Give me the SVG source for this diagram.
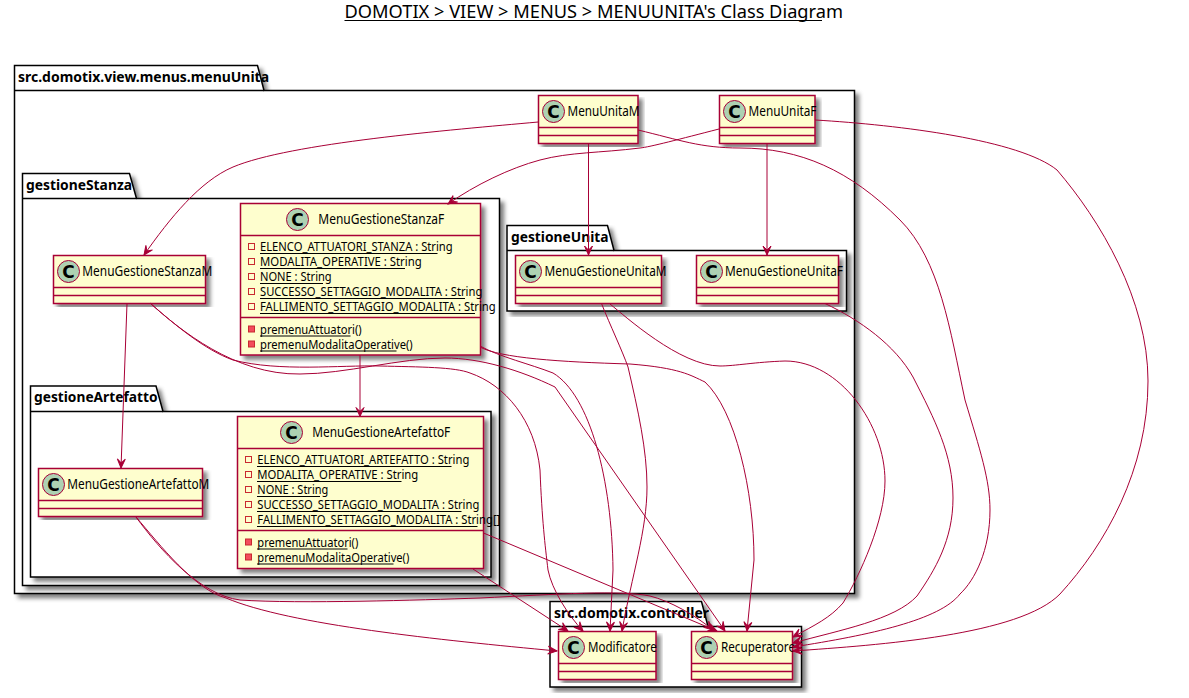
<svg xmlns="http://www.w3.org/2000/svg" width="1189" height="698" viewBox="0 0 1189 698">
<style>
text{font-family:"Noto Sans","DejaVu Sans",sans-serif;font-size:14px;fill:#000}
.t{font-size:18px}
.pl{font-weight:bold;font-size:14px}
.m{font-size:12px}
.c{font-family:"DejaVu Sans",sans-serif;font-weight:bold;font-size:17px;text-anchor:middle}
.p{fill:#fff;stroke:#000;stroke-width:1.5;filter:url(#s)}
.pd{fill:none;stroke:#000;stroke-width:1.5}
.b{fill:#FEFECE;stroke:#A80036;stroke-width:1.5;filter:url(#s)}
.d{stroke:#A80036;stroke-width:1.5;fill:none}
.o{fill:#ADD1B2;stroke:#A80036;stroke-width:1}
.u{stroke:#000;stroke-width:1}
.f{fill:none;stroke:#C82930;stroke-width:1}
.g{fill:#F24D5C;stroke:#C82930;stroke-width:1}
.e{fill:none;stroke:#A80036;stroke-width:1;marker-end:url(#a)}
</style>
<defs>
<filter id="s" x="-5%" y="-5%" width="112%" height="112%"><feGaussianBlur in="SourceAlpha" stdDeviation="2"/><feColorMatrix values="0 0 0 0 0 0 0 0 0 0 0 0 0 0 0 0 0 0 .5 0"/><feOffset dx="4" dy="4" result="o"/><feBlend in="SourceGraphic" in2="o"/></filter>
<marker id="a" markerUnits="userSpaceOnUse" markerWidth="12" markerHeight="12" refX="10" refY="6" orient="auto"><path d="M10,6 L1,2 L5,6 L1,10 Z" fill="#A80036" stroke="#A80036"/></marker>
</defs>
<text class="t" x="344.500" y="18" textLength="498.500" lengthAdjust="spacingAndGlyphs">DOMOTIX &gt; VIEW &gt; MENUS &gt; MENUUNITA's Class Diagram</text>
<line class="u" x1="344.500" y1="20.500" x2="822" y2="20.500"/>

<g id="pkg-menuUnita"><path class="p" d="M14.500,65.500 H257.500 L264,90.500 H854.500 V593.500 H14.500 Z"/><path class="pd" d="M14.500,90.500 H264"/><text class="pl" x="18" y="81.500" textLength="251" lengthAdjust="spacingAndGlyphs">src.domotix.view.menus.menuUnita</text></g>
<g id="pkg-gestioneStanza"><path class="p" d="M22.500,173.500 H129.500 L136.500,198.500 H499.500 V585.500 H22.500 Z"/><path class="pd" d="M22.500,198.500 H136.500"/><text class="pl" x="26" y="189.500" textLength="106" lengthAdjust="spacingAndGlyphs">gestioneStanza</text></g>
<g id="pkg-gestioneUnita"><path class="p" d="M507,225.500 H607.500 L614,250.500 H846.500 V311 H507 Z"/><path class="pd" d="M507,250.500 H614"/><text class="pl" x="511" y="241.500" textLength="97.500" lengthAdjust="spacingAndGlyphs">gestioneUnita</text></g>
<g id="pkg-gestioneArtefatto"><path class="p" d="M30.500,386 H156 L163,411.500 H491 V577 H30.500 Z"/><path class="pd" d="M30.500,411.500 H163"/><text class="pl" x="34" y="402" textLength="123.500" lengthAdjust="spacingAndGlyphs">gestioneArtefatto</text></g>
<g id="pkg-controller"><path class="p" d="M550,601.500 H701.500 L708,626.500 H801.500 V687 H550 Z"/><path class="pd" d="M550,626.500 H708"/><text class="pl" x="554" y="617.500" textLength="155" lengthAdjust="spacingAndGlyphs">src.domotix.controller</text></g>

<g id="MenuUnitaM"><rect class="b" x="538.500" y="95.500" width="99.500" height="48"/><path class="d" d="M538.500,127.500 H638 M538.500,135.500 H638"/><circle class="o" cx="553.500" cy="111.500" r="11"/><text class="c" x="553.500" y="117.500">C</text><text x="567.500" y="116" textLength="72" lengthAdjust="spacingAndGlyphs">MenuUnitaM</text></g>
<g id="MenuUnitaF"><rect class="b" x="719.500" y="95.500" width="95.500" height="48"/><path class="d" d="M719.500,127.500 H815 M719.500,135.500 H815"/><circle class="o" cx="734.500" cy="111.500" r="11"/><text class="c" x="734.500" y="117.500">C</text><text x="748.500" y="116" textLength="68" lengthAdjust="spacingAndGlyphs">MenuUnitaF</text></g>
<g id="MenuGestioneUnitaM"><rect class="b" x="515.500" y="255.500" width="146" height="48"/><path class="d" d="M515.500,287.500 H661.500 M515.500,295.500 H661.500"/><circle class="o" cx="530.500" cy="271.500" r="11"/><text class="c" x="530.500" y="277.500">C</text><text x="544.500" y="276" textLength="122" lengthAdjust="spacingAndGlyphs">MenuGestioneUnitaM</text></g>
<g id="MenuGestioneUnitaF"><rect class="b" x="696.500" y="255.500" width="142" height="48"/><path class="d" d="M696.500,287.500 H838.500 M696.500,295.500 H838.500"/><circle class="o" cx="711.500" cy="271.500" r="11"/><text class="c" x="711.500" y="277.500">C</text><text x="725" y="276" textLength="118" lengthAdjust="spacingAndGlyphs">MenuGestioneUnitaF</text></g>
<g id="MenuGestioneStanzaM"><rect class="b" x="53.500" y="255.500" width="152" height="48"/><path class="d" d="M53.500,287.500 H205.500 M53.500,295.500 H205.500"/><circle class="o" cx="68.500" cy="271.500" r="11"/><text class="c" x="68.500" y="277.500">C</text><text x="82.300" y="276" textLength="130" lengthAdjust="spacingAndGlyphs">MenuGestioneStanzaM</text></g>
<g id="MenuGestioneStanzaF"><rect class="b" x="240.500" y="203.500" width="240" height="151.500"/><path class="d" d="M240.500,235.500 H480.500 M240.500,317.500 H480.500"/><circle class="o" cx="297.500" cy="219.500" r="11"/><text class="c" x="297.500" y="225.500">C</text><text x="318.300" y="224" textLength="126" lengthAdjust="spacingAndGlyphs">MenuGestioneStanzaF</text>
<rect class="f" x="248.500" y="243.500" width="6" height="6"/><text class="m" x="260" y="251" textLength="192.700" lengthAdjust="spacingAndGlyphs">ELENCO_ATTUATORI_STANZA : String</text><line class="u" x1="260" y1="253.500" x2="437.500" y2="253.500"/>
<rect class="f" x="248.500" y="258.500" width="6" height="6"/><text class="m" x="260" y="266" textLength="161.700" lengthAdjust="spacingAndGlyphs">MODALITA_OPERATIVE : String</text><line class="u" x1="260" y1="268.500" x2="405" y2="268.500"/>
<rect class="f" x="248.500" y="273.500" width="6" height="6"/><text class="m" x="260" y="281" textLength="71.700" lengthAdjust="spacingAndGlyphs">NONE : String</text><line class="u" x1="260" y1="283.500" x2="323" y2="283.500"/>
<rect class="f" x="248.500" y="288.500" width="6" height="6"/><text class="m" x="260" y="296" textLength="222.300" lengthAdjust="spacingAndGlyphs">SUCCESSO_SETTAGGIO_MODALITA : String</text><line class="u" x1="260" y1="298.500" x2="465" y2="298.500"/>
<rect class="f" x="248.500" y="303.500" width="6" height="6"/><text class="m" x="260" y="311" textLength="235.700" lengthAdjust="spacingAndGlyphs">FALLIMENTO_SETTAGGIO_MODALITA : String</text><line class="u" x1="260" y1="313.500" x2="475" y2="313.500"/>
<rect class="g" x="248.500" y="326" width="6" height="6"/><text class="m" x="260" y="334" textLength="101.700" lengthAdjust="spacingAndGlyphs">premenuAttuatori()</text><line class="u" x1="260" y1="336" x2="350.500" y2="336"/>
<rect class="g" x="248.500" y="341" width="6" height="6"/><text class="m" x="260" y="349" textLength="152.700" lengthAdjust="spacingAndGlyphs">premenuModalitaOperative()</text><line class="u" x1="260" y1="351" x2="396.500" y2="351"/></g>
<g id="MenuGestioneArtefattoM"><rect class="b" x="38.500" y="468.500" width="164" height="48"/><path class="d" d="M38.500,500.500 H202.500 M38.500,508.500 H202.500"/><circle class="o" cx="53.500" cy="484.500" r="11"/><text class="c" x="53.500" y="490.500">C</text><text x="67.300" y="489" textLength="142" lengthAdjust="spacingAndGlyphs">MenuGestioneArtefattoM</text></g>
<g id="MenuGestioneArtefattoF"><rect class="b" x="237.500" y="416.500" width="246" height="152"/><path class="d" d="M237.500,448.500 H483.500 M237.500,530.500 H483.500"/><circle class="o" cx="291.500" cy="432.500" r="11"/><text class="c" x="291.500" y="438.500">C</text><text x="312.300" y="437" textLength="138" lengthAdjust="spacingAndGlyphs">MenuGestioneArtefattoF</text>
<rect class="f" x="245.500" y="456.500" width="6" height="6"/><text class="m" x="257.300" y="464" textLength="212" lengthAdjust="spacingAndGlyphs">ELENCO_ATTUATORI_ARTEFATTO : String</text><line class="u" x1="257" y1="466.500" x2="451.500" y2="466.500"/>
<rect class="f" x="245.500" y="471.500" width="6" height="6"/><text class="m" x="257.300" y="479" textLength="161" lengthAdjust="spacingAndGlyphs">MODALITA_OPERATIVE : String</text><line class="u" x1="257" y1="481.500" x2="401.500" y2="481.500"/>
<rect class="f" x="245.500" y="486.500" width="6" height="6"/><text class="m" x="257.300" y="494" textLength="71" lengthAdjust="spacingAndGlyphs">NONE : String</text><line class="u" x1="257" y1="496.500" x2="320" y2="496.500"/>
<rect class="f" x="245.500" y="501.500" width="6" height="6"/><text class="m" x="257.300" y="509" textLength="222" lengthAdjust="spacingAndGlyphs">SUCCESSO_SETTAGGIO_MODALITA : String</text><line class="u" x1="257" y1="511.500" x2="461.500" y2="511.500"/>
<rect class="f" x="245.500" y="516.500" width="6" height="6"/><text class="m" x="257.300" y="524" textLength="243" lengthAdjust="spacingAndGlyphs">FALLIMENTO_SETTAGGIO_MODALITA : String[]</text><line class="u" x1="257" y1="526.500" x2="477.500" y2="526.500"/>
<rect class="g" x="245.500" y="539" width="6" height="6"/><text class="m" x="257.300" y="547" textLength="101" lengthAdjust="spacingAndGlyphs">premenuAttuatori()</text><line class="u" x1="257" y1="549" x2="347.500" y2="549"/>
<rect class="g" x="245.500" y="554" width="6" height="6"/><text class="m" x="257.300" y="562" textLength="152" lengthAdjust="spacingAndGlyphs">premenuModalitaOperative()</text><line class="u" x1="257" y1="564" x2="393.500" y2="564"/></g>
<g id="Modificatore"><rect class="b" x="558.500" y="631.500" width="97.500" height="48"/><path class="d" d="M558.500,663.500 H656 M558.500,671.500 H656"/><circle class="o" cx="573.500" cy="647.500" r="11"/><text class="c" x="573.500" y="653.500">C</text><text x="588" y="652" textLength="68.700" lengthAdjust="spacingAndGlyphs">Modificatore</text></g>
<g id="Recuperatore"><rect class="b" x="691.500" y="631.500" width="101" height="48"/><path class="d" d="M691.500,663.500 H792.500 M691.500,671.500 H792.500"/><circle class="o" cx="706.500" cy="647.500" r="11"/><text class="c" x="706.500" y="653.500">C</text><text x="721" y="652" textLength="74" lengthAdjust="spacingAndGlyphs">Recuperatore</text></g>

<g id="connectors">
<path class="e" d="M538.300,122 C450,130 290,143 233,167 C200,181 170,218 144,255"/>
<path class="e" d="M719,129 C680,139 650,147 640,148 C600,153 570,152 540,160 C510,168 475,185 448,204"/>
<path class="e" d="M588.500,143.500 V255"/>
<path class="e" d="M767,143.500 V255"/>
<path class="e" d="M638,130 C680,140 700,148 740,148 C800,148 850,170 900,220 C940,260 950,330 965,400 C980,450 990,480 990,510 C990,550 975,580 960,594 C940,620 870,635 793,647"/>
<path class="e" d="M815,120 C900,125 1020,140 1057,170 C1100,220 1148,300 1148,381 C1148,470 1105,545 1060,594 C1020,635 880,645 793,651"/>
<path class="e" d="M825,303.500 C860,320 895,345 913,377 C935,420 953,455 953,498 C953,540 935,570 917,596 C895,620 840,630 793,643"/>
<path class="e" d="M610,304 C625,316 680,366 720,366 C735,366 755,362 785,361 C840,361 885,425 885,481 C885,520 860,575 843,603 C830,618 815,625 793,637"/>
<path class="e" d="M601.700,304 C610,325 622,350 628,367 C638,410 647,450 647,487 C647,530 632,575 622,631"/>
<path class="e" d="M480,346 C500,357 530,364 553,373 C590,395 612,480 613,570 L610,631"/>
<path class="e" d="M480,347 C500,358 560,362 630,364 C680,368 690,375 705,382 C735,410 754,490 754,560 L747,631"/>
<path class="e" d="M150,303 C180,330 235,375 300,374 C345,374 400,358 445,358 C480,358 520,370 555,387 L725,631"/>
<path class="e" d="M150,303 C175,325 205,350 233,360 C280,372 340,365 380,366 C420,367 455,367 470,373 C505,385 535,420 540,470 C542,520 545,545 548,570 C552,590 568,615 583,631"/>
<path class="e" d="M127,303.500 L121,468"/>
<path class="e" d="M360,355 V416.500"/>
<path class="e" d="M136,517 C160,550 200,595 240,600 C300,604 420,600 480,598 C560,594 620,590 650,596 C670,601 695,615 713,630"/>
<path class="e" d="M136,517 C160,545 195,590 226,598 C290,625 440,640 557,651"/>
<path class="e" d="M483.500,533 L717,631"/>
<path class="e" d="M473,569 L568,631"/>
</g>
</svg>
